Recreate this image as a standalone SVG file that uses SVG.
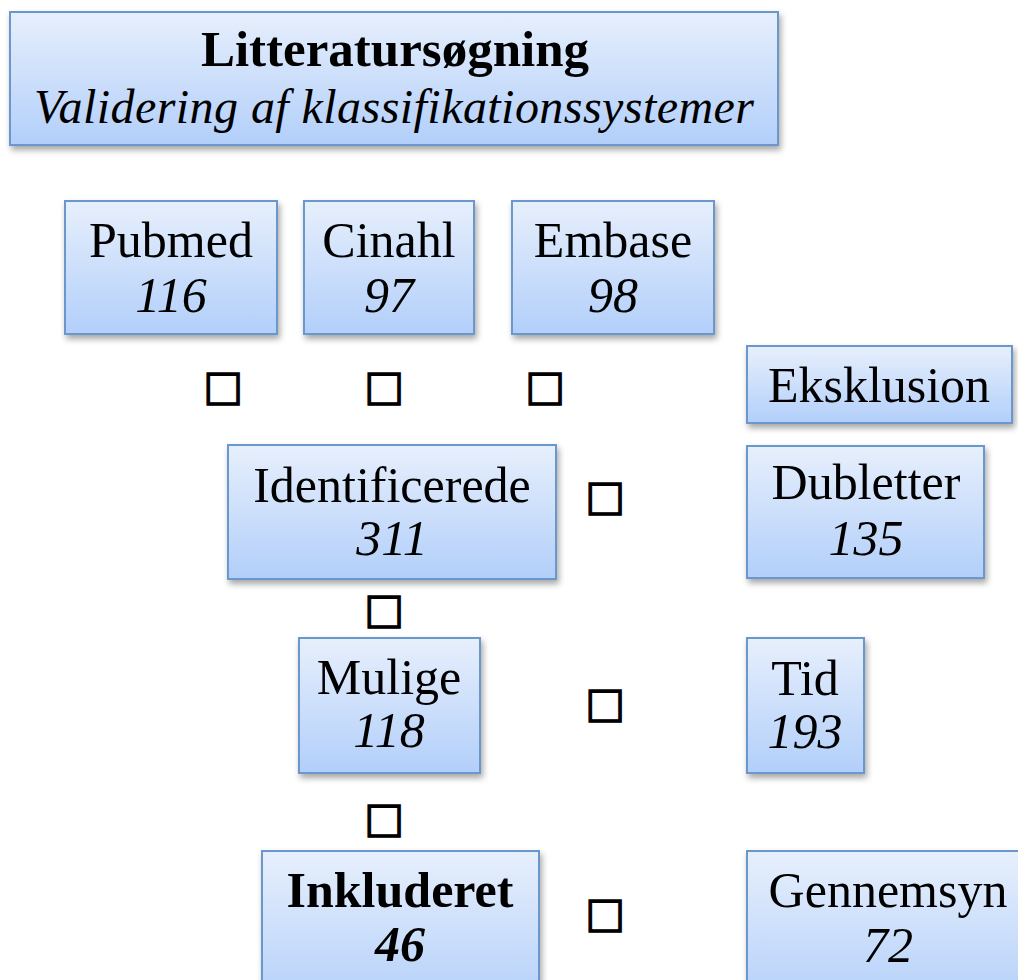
<svg xmlns="http://www.w3.org/2000/svg" width="1018" height="980" viewBox="0 0 1018 980">
<defs>
<linearGradient id="g" x1="0" y1="0" x2="0" y2="1">
<stop offset="0" stop-color="#e7effc"/>
<stop offset="1" stop-color="#b2cffa"/>
</linearGradient>
<filter id="sh" x="-10%" y="-10%" width="130%" height="140%">
<feDropShadow dx="2" dy="4" stdDeviation="3" flood-color="#000" flood-opacity="0.35"/>
</filter>
</defs>
<style>
.box{fill:url(#g);stroke:#6a98cd;stroke-width:2;filter:url(#sh)}
text{font-family:"Liberation Serif","Times New Roman",serif;fill:#000;text-anchor:middle}
.t{font-size:50px}
.n{font-size:50px;font-style:italic}
.sq{font-family:"DejaVu Sans",sans-serif;font-size:42px;stroke:#000;stroke-width:1.3}
</style>
<rect width="1018" height="980" fill="#fff"/>
<g id="title">
<rect class="box" x="10" y="12" width="768" height="133"/>
<text x="395" y="66" font-size="51" font-weight="bold">Litteratursøgning</text>
<text x="394" y="123" font-size="48" font-style="italic" textLength="720">Validering af klassifikationssystemer</text>
</g>
<g id="pubmed">
<rect class="box" x="65" y="201" width="212" height="133"/>
<text class="t" x="171" y="257">Pubmed</text>
<text class="n" x="171" y="312">116</text>
</g>
<g id="cinahl">
<rect class="box" x="304" y="201" width="170" height="133"/>
<text class="t" x="389" y="257">Cinahl</text>
<text class="n" x="389" y="312">97</text>
</g>
<g id="embase">
<rect class="box" x="512" y="201" width="202" height="133"/>
<text class="t" x="613" y="257">Embase</text>
<text class="n" x="613" y="312">98</text>
</g>
<g id="eksklusion">
<rect class="box" x="747" y="346" width="265" height="77"/>
<text class="t" x="879" y="402">Eksklusion</text>
</g>
<g id="identificerede">
<rect class="box" x="228" y="445" width="328" height="134"/>
<text class="t" x="392" y="502">Identificerede</text>
<text class="n" x="392" y="555">311</text>
</g>
<g id="dubletter">
<rect class="box" x="747" y="446" width="237" height="132"/>
<text class="t" x="866" y="499">Dubletter</text>
<text class="n" x="866" y="555">135</text>
</g>
<g id="mulige">
<rect class="box" x="299" y="638" width="181" height="135"/>
<text class="t" x="389" y="694">Mulige</text>
<text class="n" x="389" y="747">118</text>
</g>
<g id="tid">
<rect class="box" x="747" y="638" width="117" height="135"/>
<text class="t" x="805" y="695">Tid</text>
<text class="n" x="805" y="748">193</text>
</g>
<g id="inkluderet">
<rect class="box" x="262" y="851" width="277" height="160"/>
<text class="t" x="400" y="907" font-weight="bold">Inkluderet</text>
<text class="n" x="400" y="961" font-weight="bold">46</text>
</g>
<g id="gennemsyn">
<rect class="box" x="747" y="851" width="290" height="160"/>
<text class="t" x="888" y="907">Gennemsyn</text>
<text class="n" x="888" y="962">72</text>
</g>
<g id="connectors">
<text class="sq" x="223" y="400">□</text>
<text class="sq" x="384" y="400">□</text>
<text class="sq" x="545" y="400">□</text>
<text class="sq" x="605" y="510">□</text>
<text class="sq" x="384" y="623">□</text>
<text class="sq" x="605" y="717">□</text>
<text class="sq" x="384" y="832">□</text>
<text class="sq" x="605" y="927">□</text>
</g>
</svg>
